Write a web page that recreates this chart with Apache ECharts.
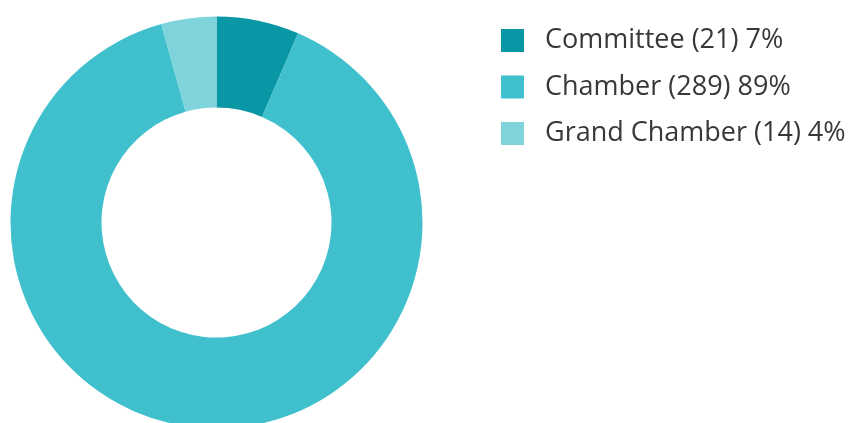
<!DOCTYPE html>
<html>
<head>
<meta charset="utf-8">
<script src="https://cdn.jsdelivr.net/npm/echarts@6/dist/echarts.min.js"></script>
<style>
  html, body { margin: 0; padding: 0; background: #ffffff; }
  #chart { width: 853px; height: 423px; }
</style>
</head>
<body>
<div id="chart"></div>
<script>
// Judgment formations, their counts and the shares printed in the legend
const categories = ['Committee', 'Chamber', 'Grand Chamber'];
const counts = [21, 289, 14];
const shareLabels = ['7%', '89%', '4%'];
const colors = ['#0a97a5', '#40c0cc', '#7fd4dc'];

const pieData = categories.map((name, i) => ({
  name: name,
  value: counts[i],
  itemStyle: { color: colors[i] }
}));

const chart = echarts.init(document.getElementById('chart'));
chart.setOption({
  animation: false,
  legend: {
    orient: 'vertical',
    left: 501,
    top: 27,
    padding: 0,
    icon: 'rect',
    itemWidth: 23,
    itemHeight: 23,
    itemGap: 19.5,
    selectedMode: false,
    formatter: function (name) {
      const i = categories.indexOf(name);
      return name + ' (' + counts[i] + ') ' + shareLabels[i];
    },
    textStyle: {
      fontFamily: 'Open Sans',
      fontSize: 27,
      color: '#383838',
      padding: [0, 0, 0, 16]
    }
  },
  series: [{
    type: 'pie',
    center: [216.5, 222.5],
    radius: [115, 206],
    startAngle: 90,
    clockwise: true,
    label: { show: false },
    labelLine: { show: false },
    emphasis: { disabled: true },
    itemStyle: { borderWidth: 0 },
    data: pieData
  }]
});
</script>
</body>
</html>
